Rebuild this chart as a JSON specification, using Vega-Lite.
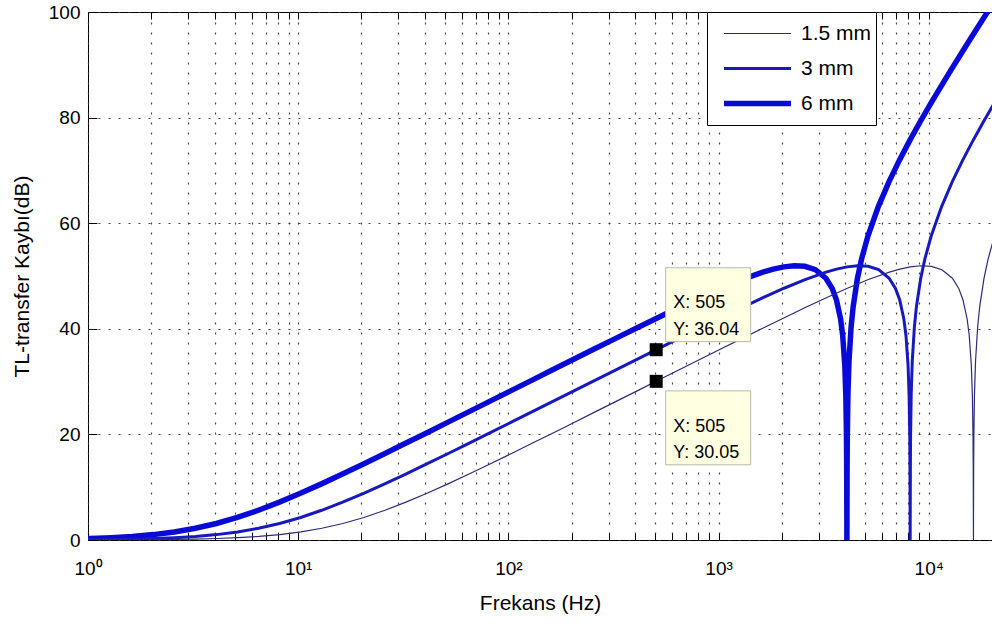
{
"$schema":"https://vega.github.io/schema/vega-lite/v6.json",
"width":904,"height":528,
"autosize":{"type":"none"},
"padding":{"left":88,"top":12,"right":0,"bottom":85},
"background":"white",
"config":{"view":{"stroke":"black","strokeWidth":1},"font":"Liberation Sans",
"axis":{"labelFont":"Liberation Sans","titleFont":"Liberation Sans","labelColor":"black","titleColor":"black","tickColor":"black","domain":false,"gridColor":"#333333","gridDash":[2,8],"gridWidth":1.2,"gridOpacity":0.9,"labelFlush":false,"labelOverlap":false,"titleFontWeight":"normal"}},
"resolve":{"axis":{"x":"independent","y":"independent"}},
"datasets":{
"curves":[
{"f":0.8141,"tl":0.18,"curve":"6 mm"},{"f":1.0248,"tl":0.28,"curve":"6 mm"},{"f":1.2902,"tl":0.44,"curve":"6 mm"},{"f":1.6243,"tl":0.67,"curve":"6 mm"},{"f":2.0449,"tl":1.02,"curve":"6 mm"},{"f":2.5743,"tl":1.53,"curve":"6 mm"},{"f":3.2409,"tl":2.22,"curve":"6 mm"},{"f":4.08,"tl":3.13,"curve":"6 mm"},{"f":5.1364,"tl":4.27,"curve":"6 mm"},{"f":6.4665,"tl":5.63,"curve":"6 mm"},{"f":8.1408,"tl":7.17,"curve":"6 mm"},{"f":10.248,"tl":8.85,"curve":"6 mm"},{"f":12.902,"tl":10.63,"curve":"6 mm"},{"f":16.243,"tl":12.49,"curve":"6 mm"},{"f":20.449,"tl":14.40,"curve":"6 mm"},{"f":25.743,"tl":16.34,"curve":"6 mm"},{"f":32.409,"tl":18.31,"curve":"6 mm"},{"f":40.8,"tl":20.28,"curve":"6 mm"},{"f":51.364,"tl":22.27,"curve":"6 mm"},{"f":64.665,"tl":24.26,"curve":"6 mm"},{"f":81.408,"tl":26.25,"curve":"6 mm"},{"f":102.48,"tl":28.24,"curve":"6 mm"},{"f":129.02,"tl":30.24,"curve":"6 mm"},{"f":162.43,"tl":32.23,"curve":"6 mm"},{"f":204.49,"tl":34.22,"curve":"6 mm"},{"f":257.43,"tl":36.21,"curve":"6 mm"},{"f":324.09,"tl":38.19,"curve":"6 mm"},{"f":408,"tl":40.15,"curve":"6 mm"},{"f":513.64,"tl":42.10,"curve":"6 mm"},{"f":646.65,"tl":44.02,"curve":"6 mm"},{"f":814.08,"tl":45.89,"curve":"6 mm"},{"f":1024.8,"tl":47.68,"curve":"6 mm"},{"f":1290.2,"tl":49.33,"curve":"6 mm"},{"f":1624.3,"tl":50.74,"curve":"6 mm"},{"f":1822.5,"tl":51.31,"curve":"6 mm"},{"f":2044.9,"tl":51.73,"curve":"6 mm"},{"f":2294.3,"tl":51.94,"curve":"6 mm"},{"f":2574.3,"tl":51.83,"curve":"6 mm"},{"f":2888.4,"tl":51.20,"curve":"6 mm"},{"f":3240.9,"tl":49.58,"curve":"6 mm"},{"f":3472.7,"tl":47.65,"curve":"6 mm"},{"f":3636.3,"tl":45.51,"curve":"6 mm"},{"f":3807.7,"tl":41.86,"curve":"6 mm"},{"f":3896.4,"tl":38.73,"curve":"6 mm"},{"f":3987.1,"tl":33.11,"curve":"6 mm"},{"f":4033.3,"tl":27.29,"curve":"6 mm"},{"f":4061.2,"tl":19.50,"curve":"6 mm"},{"f":4070.6,"tl":13.65,"curve":"6 mm"},{"f":4077.2,"tl":4.79,"curve":"6 mm"},{"f":4080,"tl":0,"curve":"6 mm"},{"f":4082.8,"tl":4.79,"curve":"6 mm"},{"f":4089.4,"tl":13.73,"curve":"6 mm"},{"f":4098.8,"tl":19.65,"curve":"6 mm"},{"f":4127.2,"tl":27.69,"curve":"6 mm"},{"f":4175.0,"tl":33.91,"curve":"6 mm"},{"f":4272.3,"tl":40.33,"curve":"6 mm"},{"f":4371.8,"tl":44.26,"curve":"6 mm"},{"f":4577.8,"tl":49.51,"curve":"6 mm"},{"f":4793.6,"tl":53.25,"curve":"6 mm"},{"f":5136.4,"tl":57.58,"curve":"6 mm"},{"f":5763.2,"tl":63.20,"curve":"6 mm"},{"f":6466.4,"tl":67.83,"curve":"6 mm"},{"f":7255.4,"tl":71.94,"curve":"6 mm"},{"f":8140.7,"tl":75.73,"curve":"6 mm"},{"f":9134.0,"tl":79.31,"curve":"6 mm"},{"f":10248,"tl":82.74,"curve":"6 mm"},{"f":11499,"tl":86.07,"curve":"6 mm"},{"f":12902,"tl":89.33,"curve":"6 mm"},{"f":14476,"tl":92.52,"curve":"6 mm"},{"f":16243,"tl":95.68,"curve":"6 mm"},{"f":18225,"tl":98.80,"curve":"6 mm"},{"f":20448,"tl":101.89,"curve":"6 mm"},
{"f":0.816,"tl":0.05,"curve":"3 mm"},{"f":1.0273,"tl":0.07,"curve":"3 mm"},{"f":1.2933,"tl":0.11,"curve":"3 mm"},{"f":1.6282,"tl":0.18,"curve":"3 mm"},{"f":2.0497,"tl":0.28,"curve":"3 mm"},{"f":2.5804,"tl":0.44,"curve":"3 mm"},{"f":3.2486,"tl":0.67,"curve":"3 mm"},{"f":4.0897,"tl":1.02,"curve":"3 mm"},{"f":5.1486,"tl":1.53,"curve":"3 mm"},{"f":6.4817,"tl":2.22,"curve":"3 mm"},{"f":8.16,"tl":3.13,"curve":"3 mm"},{"f":10.273,"tl":4.27,"curve":"3 mm"},{"f":12.933,"tl":5.63,"curve":"3 mm"},{"f":16.282,"tl":7.17,"curve":"3 mm"},{"f":20.497,"tl":8.85,"curve":"3 mm"},{"f":25.804,"tl":10.63,"curve":"3 mm"},{"f":32.486,"tl":12.49,"curve":"3 mm"},{"f":40.897,"tl":14.40,"curve":"3 mm"},{"f":51.486,"tl":16.34,"curve":"3 mm"},{"f":64.817,"tl":18.31,"curve":"3 mm"},{"f":81.6,"tl":20.28,"curve":"3 mm"},{"f":102.73,"tl":22.27,"curve":"3 mm"},{"f":129.33,"tl":24.26,"curve":"3 mm"},{"f":162.82,"tl":26.25,"curve":"3 mm"},{"f":204.97,"tl":28.24,"curve":"3 mm"},{"f":258.04,"tl":30.24,"curve":"3 mm"},{"f":324.86,"tl":32.23,"curve":"3 mm"},{"f":408.97,"tl":34.22,"curve":"3 mm"},{"f":514.86,"tl":36.21,"curve":"3 mm"},{"f":648.17,"tl":38.19,"curve":"3 mm"},{"f":816,"tl":40.15,"curve":"3 mm"},{"f":1027.3,"tl":42.10,"curve":"3 mm"},{"f":1293.3,"tl":44.02,"curve":"3 mm"},{"f":1628.2,"tl":45.89,"curve":"3 mm"},{"f":2049.7,"tl":47.68,"curve":"3 mm"},{"f":2580.4,"tl":49.33,"curve":"3 mm"},{"f":3248.6,"tl":50.74,"curve":"3 mm"},{"f":3645.0,"tl":51.31,"curve":"3 mm"},{"f":4089.7,"tl":51.73,"curve":"3 mm"},{"f":4588.7,"tl":51.94,"curve":"3 mm"},{"f":5148.6,"tl":51.83,"curve":"3 mm"},{"f":5776.9,"tl":51.20,"curve":"3 mm"},{"f":6481.7,"tl":49.58,"curve":"3 mm"},{"f":6945.3,"tl":47.65,"curve":"3 mm"},{"f":7272.6,"tl":45.51,"curve":"3 mm"},{"f":7615.3,"tl":41.86,"curve":"3 mm"},{"f":7792.7,"tl":38.73,"curve":"3 mm"},{"f":7974.3,"tl":33.11,"curve":"3 mm"},{"f":8066.6,"tl":27.29,"curve":"3 mm"},{"f":8122.5,"tl":19.50,"curve":"3 mm"},{"f":8141.2,"tl":13.65,"curve":"3 mm"},{"f":8154.4,"tl":4.79,"curve":"3 mm"},{"f":8160,"tl":0,"curve":"3 mm"},{"f":8165.6,"tl":4.79,"curve":"3 mm"},{"f":8178.8,"tl":13.73,"curve":"3 mm"},{"f":8197.7,"tl":19.65,"curve":"3 mm"},{"f":8254.5,"tl":27.69,"curve":"3 mm"},{"f":8350.1,"tl":33.91,"curve":"3 mm"},{"f":8544.6,"tl":40.33,"curve":"3 mm"},{"f":8743.6,"tl":44.26,"curve":"3 mm"},{"f":9155.7,"tl":49.51,"curve":"3 mm"},{"f":9587.2,"tl":53.25,"curve":"3 mm"},{"f":10273,"tl":57.58,"curve":"3 mm"},{"f":11526,"tl":63.20,"curve":"3 mm"},{"f":12933,"tl":67.83,"curve":"3 mm"},{"f":14511,"tl":71.94,"curve":"3 mm"},{"f":16281,"tl":75.73,"curve":"3 mm"},{"f":18268,"tl":79.31,"curve":"3 mm"},{"f":20497,"tl":82.74,"curve":"3 mm"},
{"f":0.8179,"tl":0.01,"curve":"1.5 mm"},{"f":1.0297,"tl":0.02,"curve":"1.5 mm"},{"f":1.2963,"tl":0.03,"curve":"1.5 mm"},{"f":1.632,"tl":0.05,"curve":"1.5 mm"},{"f":2.0545,"tl":0.07,"curve":"1.5 mm"},{"f":2.5866,"tl":0.11,"curve":"1.5 mm"},{"f":3.2563,"tl":0.18,"curve":"1.5 mm"},{"f":4.0994,"tl":0.28,"curve":"1.5 mm"},{"f":5.1609,"tl":0.44,"curve":"1.5 mm"},{"f":6.4972,"tl":0.67,"curve":"1.5 mm"},{"f":8.1794,"tl":1.02,"curve":"1.5 mm"},{"f":10.297,"tl":1.53,"curve":"1.5 mm"},{"f":12.963,"tl":2.22,"curve":"1.5 mm"},{"f":16.32,"tl":3.13,"curve":"1.5 mm"},{"f":20.545,"tl":4.27,"curve":"1.5 mm"},{"f":25.866,"tl":5.63,"curve":"1.5 mm"},{"f":32.563,"tl":7.17,"curve":"1.5 mm"},{"f":40.994,"tl":8.85,"curve":"1.5 mm"},{"f":51.609,"tl":10.63,"curve":"1.5 mm"},{"f":64.972,"tl":12.49,"curve":"1.5 mm"},{"f":81.794,"tl":14.40,"curve":"1.5 mm"},{"f":102.97,"tl":16.34,"curve":"1.5 mm"},{"f":129.63,"tl":18.31,"curve":"1.5 mm"},{"f":163.2,"tl":20.28,"curve":"1.5 mm"},{"f":205.45,"tl":22.27,"curve":"1.5 mm"},{"f":258.66,"tl":24.26,"curve":"1.5 mm"},{"f":325.63,"tl":26.25,"curve":"1.5 mm"},{"f":409.94,"tl":28.24,"curve":"1.5 mm"},{"f":516.09,"tl":30.24,"curve":"1.5 mm"},{"f":649.72,"tl":32.23,"curve":"1.5 mm"},{"f":817.94,"tl":34.22,"curve":"1.5 mm"},{"f":1029.7,"tl":36.21,"curve":"1.5 mm"},{"f":1296.3,"tl":38.19,"curve":"1.5 mm"},{"f":1632,"tl":40.15,"curve":"1.5 mm"},{"f":2054.5,"tl":42.10,"curve":"1.5 mm"},{"f":2586.6,"tl":44.02,"curve":"1.5 mm"},{"f":3256.3,"tl":45.89,"curve":"1.5 mm"},{"f":4099.4,"tl":47.68,"curve":"1.5 mm"},{"f":5160.9,"tl":49.33,"curve":"1.5 mm"},{"f":6497.2,"tl":50.74,"curve":"1.5 mm"},{"f":7289.8,"tl":51.31,"curve":"1.5 mm"},{"f":8179.4,"tl":51.73,"curve":"1.5 mm"},{"f":9177.4,"tl":51.94,"curve":"1.5 mm"},{"f":10297,"tl":51.83,"curve":"1.5 mm"},{"f":11554,"tl":51.20,"curve":"1.5 mm"},{"f":12963,"tl":49.58,"curve":"1.5 mm"},{"f":13891,"tl":47.65,"curve":"1.5 mm"},{"f":14545,"tl":45.51,"curve":"1.5 mm"},{"f":15231,"tl":41.86,"curve":"1.5 mm"},{"f":15585,"tl":38.73,"curve":"1.5 mm"},{"f":15948,"tl":33.11,"curve":"1.5 mm"},{"f":16133,"tl":27.29,"curve":"1.5 mm"},{"f":16245,"tl":19.50,"curve":"1.5 mm"},{"f":16282,"tl":13.65,"curve":"1.5 mm"},{"f":16309,"tl":4.79,"curve":"1.5 mm"},{"f":16320,"tl":0,"curve":"1.5 mm"},{"f":16331,"tl":4.79,"curve":"1.5 mm"},{"f":16358,"tl":13.73,"curve":"1.5 mm"},{"f":16395,"tl":19.65,"curve":"1.5 mm"},{"f":16509,"tl":27.69,"curve":"1.5 mm"},{"f":16700,"tl":33.91,"curve":"1.5 mm"},{"f":17089,"tl":40.33,"curve":"1.5 mm"},{"f":17487,"tl":44.26,"curve":"1.5 mm"},{"f":18311,"tl":49.51,"curve":"1.5 mm"},{"f":19174,"tl":53.25,"curve":"1.5 mm"},{"f":20546,"tl":57.58,"curve":"1.5 mm"}
],
"tips":[
{"f":505,"tl":36.04,"curve":"3 mm","tip":"X: 505\nY: 36.04"},
{"f":505,"tl":30.05,"curve":"1.5 mm","tip":"X: 505\nY: 30.05"}
]},
"layer":[
{"data":{"name":"curves"},
"mark":{"type":"line","clip":true},
"encoding":{
"x":{"field":"f","type":"quantitative","scale":{"type":"log","domain":[1,20000],"nice":false},
"axis":{"orient":"bottom","values":[1,2,3,4,5,6,7,8,9,10,20,30,40,50,60,70,80,90,100,200,300,400,500,600,700,800,900,1000,2000,3000,4000,5000,6000,7000,8000,9000,10000],
"labelExpr":"datum.value == 1 ? '10⁰' : datum.value == 10 ? '10¹' : datum.value == 100 ? '10²' : datum.value == 1000 ? '10³' : datum.value == 10000 ? '10⁴' : ''",
"labelFontSize":19,"labelPadding":26,"tickSize":-7,"grid":true,"title":"Frekans (Hz)","titleFontSize":21,"titleY":69.5,"titleBaseline":"alphabetic"}},
"y":{"field":"tl","type":"quantitative","scale":{"domain":[0,100],"nice":false},
"axis":{"orient":"left","values":[0,20,40,60,80,100],"labelFontSize":19,"labelPadding":17,"tickSize":-9,"grid":true,"title":"TL-transfer Kaybı(dB)","titleFontSize":21,"titleX":-60,"titleBaseline":"alphabetic"}},
"color":{"field":"curve","type":"ordinal","scale":{"type":"ordinal","domain":["1.5 mm","3 mm","6 mm"],"range":["#2b2b78","#1818c0","#0a0ad8"]},
"legend":{"orient":"none","legendX":619,"legendY":0,"title":null,"strokeColor":"black","fillColor":"white","padding":4,"cornerRadius":0,"symbolType":"stroke","symbolSize":4489,"clipHeight":35,"rowPadding":0,"labelFontSize":21,"labelFont":"Liberation Sans","labelColor":"black","labelOffset":7,"symbolOffset":10}},
"strokeWidth":{"field":"curve","type":"ordinal","scale":{"type":"ordinal","domain":["1.5 mm","3 mm","6 mm"],"range":[1.2,3,5.5]},
"legend":{"orient":"none","legendX":619,"legendY":0,"title":null,"strokeColor":"black","fillColor":"white","padding":4,"cornerRadius":0,"symbolType":"stroke","symbolSize":4489,"clipHeight":35,"rowPadding":0,"labelFontSize":21,"labelFont":"Liberation Sans","labelColor":"black","labelOffset":7,"symbolOffset":10}}
}},
{"data":{"name":"tips"},
"transform":[{"filter":"datum.curve == '3 mm'"}],
"mark":{"type":"point","shape":"M-1,-0.87H1V0.87H-1Z","size":7225,"filled":true,"fill":"#ffffe1","stroke":"#b9b9a8","strokeWidth":1,"opacity":1,"xOffset":52,"yOffset":-45},
"encoding":{"x":{"field":"f","type":"quantitative","axis":null},"y":{"field":"tl","type":"quantitative","axis":null}}},
{"data":{"name":"tips"},
"transform":[{"filter":"datum.curve == '1.5 mm'"}],
"mark":{"type":"point","shape":"M-1,-0.87H1V0.87H-1Z","size":7225,"filled":true,"fill":"#ffffe1","stroke":"#b9b9a8","strokeWidth":1,"opacity":1,"xOffset":52,"yOffset":46.5},
"encoding":{"x":{"field":"f","type":"quantitative","axis":null},"y":{"field":"tl","type":"quantitative","axis":null}}},
{"data":{"name":"tips"},
"transform":[{"filter":"datum.curve == '3 mm'"}],
"mark":{"type":"text","align":"left","baseline":"middle","dx":17,"dy":-46.4,"fontSize":18,"font":"Liberation Sans","lineBreak":"\n","lineHeight":26.7,"color":"black"},
"encoding":{"x":{"field":"f","type":"quantitative","axis":null},"y":{"field":"tl","type":"quantitative","axis":null},"text":{"field":"tip"}}},
{"data":{"name":"tips"},
"transform":[{"filter":"datum.curve == '1.5 mm'"}],
"mark":{"type":"text","align":"left","baseline":"middle","dx":17,"dy":45.2,"fontSize":18,"font":"Liberation Sans","lineBreak":"\n","lineHeight":26.7,"color":"black"},
"encoding":{"x":{"field":"f","type":"quantitative","axis":null},"y":{"field":"tl","type":"quantitative","axis":null},"text":{"field":"tip"}}},
{"data":{"name":"tips"},
"mark":{"type":"point","shape":"square","filled":true,"size":169,"color":"black","opacity":1},
"encoding":{"x":{"field":"f","type":"quantitative","axis":{"orient":"top","values":[1,2,3,4,5,6,7,8,9,10,20,30,40,50,60,70,80,90,100,200,300,400,500,600,700,800,900,1000,2000,3000,4000,5000,6000,7000,8000,9000,10000],"labels":false,"tickSize":-7,"grid":false,"title":null}},"y":{"field":"tl","type":"quantitative","axis":null}}}
]
}
